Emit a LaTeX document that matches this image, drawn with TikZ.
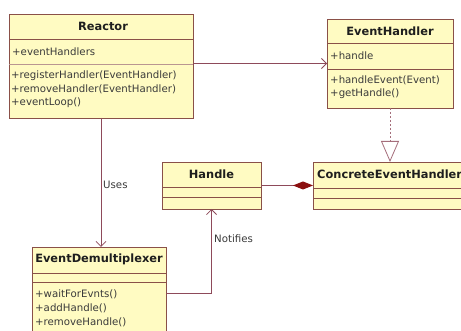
\documentclass[tikz,border=0pt]{standalone}
\usepackage{fontspec}
\setmainfont{DejaVu Sans}
\usetikzlibrary{arrows.meta}
\definecolor{boxfill}{HTML}{FFFBC2}
\definecolor{boxedge}{HTML}{8A5048}
\definecolor{linecol}{HTML}{8E4A5A}
\definecolor{diamondcol}{HTML}{8B1010}
\definecolor{txt}{HTML}{3A3A3A}
\definecolor{ttl}{HTML}{1E1E1E}
\tikzset{
  umlbox/.style={draw=boxedge, fill=boxfill, line width=0.9pt, inner sep=0pt, outer sep=0pt, anchor=north west},
  sep/.style={draw=boxedge, line width=0.8pt},
  ttlnode/.style={font=\fontsize{11.4}{13}\selectfont\bfseries, text=ttl, inner sep=0pt},
  member/.style={font=\fontsize{10.2}{12}\selectfont, text=txt, inner sep=0pt, anchor=west},
  lbl/.style={font=\fontsize{10.2}{12}\selectfont, text=txt, inner sep=0pt, anchor=west},
  assoc/.style={draw=linecol, line width=0.8pt, -{Straight Barb[length=5pt,width=10pt,line width=0.8pt]}},
  realize/.style={draw=linecol!80, line width=1pt, dash pattern=on 2.5pt off 1.5pt, -{Triangle[open,length=21pt,width=18pt,line width=0.8pt,fill=white]}},
  compos/.style={draw=linecol, line width=0.8pt, {Diamond[length=20pt,width=8pt,fill=diamondcol,color=diamondcol]}-}
}
\begin{document}
\begin{tikzpicture}[x=1pt,y=-1pt]
\useasboundingbox (0,0) rectangle (461,331);
\fill[white] (0,0) rectangle (461,331);
\clip (0,0) rectangle (461,331);

% Reactor
\node[umlbox, minimum width=184pt, minimum height=104pt] (reactor) at (9,14) {};
\draw[sep] ([yshift=-25pt]reactor.north west) -- ([yshift=-25pt]reactor.north east);
\draw[sep, draw=boxedge!60] ([yshift=-50pt]reactor.north west) -- ([yshift=-50pt]reactor.north east);
\node[ttlnode] (reactortitle) at (103,26.5) {Reactor};
\node[member] (reactora) at (12,51.5) {+eventHandlers};
\node[member] (reactorm1) at (11,76) {+registerHandler(EventHandler)};
\node[member] (reactorm2) at (11,89.5) {+removeHandler(EventHandler)};
\node[member] (reactorm3) at (11,103) {+eventLoop()};

% EventHandler
\node[umlbox, minimum width=126pt, minimum height=89pt] (eh) at (327,19) {};
\draw[sep] ([yshift=-24pt]eh.north west) -- ([yshift=-24pt]eh.north east);
\draw[sep] ([yshift=-50pt]eh.north west) -- ([yshift=-50pt]eh.north east);
\node[ttlnode] (ehtitle) at (390,31) {EventHandler};
\node[member] (eha) at (330,56) {+handle};
\node[member] (ehm1) at (330,80) {+handleEvent(Event)};
\node[member] (ehm2) at (330,94) {+getHandle()};

% Handle
\node[umlbox, minimum width=99pt, minimum height=47pt] (handle) at (162,162) {};
\draw[sep] ([yshift=-25pt]handle.north west) -- ([yshift=-25pt]handle.north east);
\draw[sep] ([yshift=-35pt]handle.north west) -- ([yshift=-35pt]handle.north east);
\node[ttlnode] (handletitle) at (211.5,174) {Handle};

% ConcreteEventHandler
\node[umlbox, minimum width=162pt, minimum height=47pt] (concrete) at (313,162) {};
\draw[sep] ([yshift=-26pt]concrete.north west) -- ([yshift=-26pt]concrete.north east);
\draw[sep] ([yshift=-36pt]concrete.north west) -- ([yshift=-36pt]concrete.north east);
\node[ttlnode, anchor=west] (concretetitle) at (317,174) {ConcreteEventHandler};

% EventDemultiplexer
\node[umlbox, minimum width=134pt, minimum height=100pt] (demux) at (32,247) {};
\draw[sep] ([yshift=-26pt]demux.north west) -- ([yshift=-26pt]demux.north east);
\draw[sep] ([yshift=-35pt]demux.north west) -- ([yshift=-35pt]demux.north east);
\node[ttlnode] (demuxtitle) at (99,259.5) {EventDemultiplexer};
\node[member] (demuxm1) at (35,294) {+waitForEvnts()};
\node[member] (demuxm2) at (35,308) {+addHandle()};
\node[member] (demuxm3) at (35,322) {+removeHandle()};

% Connectors
\draw[assoc] (reactor.east |- eh.west) -- (eh.west);
\draw[assoc] (reactor.south) -- (reactor.south |- demux.north);
\node[lbl] (useslbl) at (103,185) {Uses};
\coordinate (nstart) at ([yshift=-46pt]demux.north east);
\draw[assoc] (nstart) -| (handle.south);
\node[lbl] (notifieslbl) at (214,239) {Notifies};
\draw[realize] (eh.south) -- (eh.south |- concrete.north);
\draw[compos] (concrete.west |- handle.east) -- (handle.east);
\end{tikzpicture}
\end{document}
